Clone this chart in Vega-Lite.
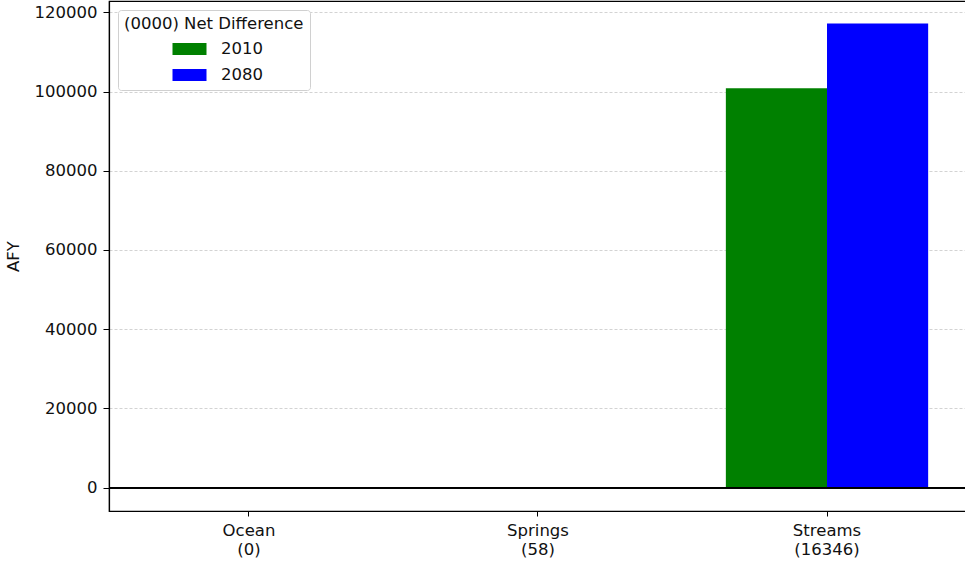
{
  "$schema": "https://vega.github.io/schema/vega-lite/v6.json",
  "width": 858,
  "height": 510,
  "autosize": {"type": "none"},
  "padding": {"left": 109, "top": 1, "right": 0, "bottom": 51},
  "background": "white",
  "config": {
    "font": "DejaVu Sans",
    "view": {"stroke": "black", "strokeWidth": 1.2},
    "axis": {
      "labelFont": "DejaVu Sans",
      "labelFontSize": 16.5,
      "labelColor": "#111",
      "titleFont": "DejaVu Sans",
      "titleFontSize": 16.5,
      "titleFontWeight": "normal",
      "titleColor": "#111",
      "domainColor": "black",
      "domainWidth": 1.2,
      "tickColor": "black",
      "tickSize": 6
    }
  },
  "data": {
    "values": [
      {"source": "Ocean (0)", "year": "2010", "afy": 0},
      {"source": "Ocean (0)", "year": "2080", "afy": 0},
      {"source": "Springs (58)", "year": "2010", "afy": 120},
      {"source": "Springs (58)", "year": "2080", "afy": 178},
      {"source": "Streams (16346)", "year": "2010", "afy": 100854},
      {"source": "Streams (16346)", "year": "2080", "afy": 117200}
    ]
  },
  "layer": [
    {
      "mark": {"type": "bar"},
      "encoding": {
        "x": {
          "field": "source",
          "type": "nominal",
          "sort": null,
          "scale": {"paddingInner": 0.3, "paddingOuter": 0.1344},
          "axis": {
            "title": null,
            "labelAngle": 0,
            "labelExpr": "split(datum.label, ' ')",
            "labelLineHeight": 19.5,
            "labelPadding": 6,
            "labelBaseline": "top",
            "tickSize": 5
          }
        },
        "xOffset": {
          "field": "year",
          "type": "nominal",
          "scale": {"paddingInner": 0, "paddingOuter": 0}
        },
        "y": {
          "field": "afy",
          "type": "quantitative",
          "scale": {"domain": [-5900, 122850], "nice": false, "zero": false},
          "axis": {
            "title": "AFY",
            "values": [0, 20000, 40000, 60000, 80000, 100000, 120000],
            "format": "d",
            "grid": true,
            "gridColor": "#c8c8c8",
            "gridDash": [3, 2],
            "gridWidth": 0.8,
            "labelPadding": 6,
            "titlePadding": 13
          }
        },
        "color": {
          "field": "year",
          "type": "nominal",
          "scale": {"domain": ["2010", "2080"], "range": ["#008000", "#0000ff"]},
          "legend": {
            "title": "(0000) Net Difference",
            "orient": "none",
            "legendX": 9,
            "legendY": 9,
            "padding": 6,
            "strokeColor": "#d0d0d0",
            "fillColor": "white",
            "cornerRadius": 3,
            "titleFontSize": 16.5,
            "titleFontWeight": "normal",
            "titleColor": "#111",
            "titleFont": "DejaVu Sans",
            "titlePadding": 8,
            "labelFontSize": 16.5,
            "labelColor": "#111",
            "labelFont": "DejaVu Sans",
            "symbolType": "M-2,-0.7H2V0.7H-2Z",
            "symbolSize": 289,
            "symbolStrokeWidth": 0,
            "symbolOpacity": 1,
            "symbolOffset": 57,
            "labelOffset": 23,
            "rowPadding": 9
          }
        }
      }
    },
    {
      "mark": {"type": "rule", "color": "black", "strokeWidth": 1.5},
      "encoding": {"y": {"datum": 0, "type": "quantitative"}}
    }
  ]
}
